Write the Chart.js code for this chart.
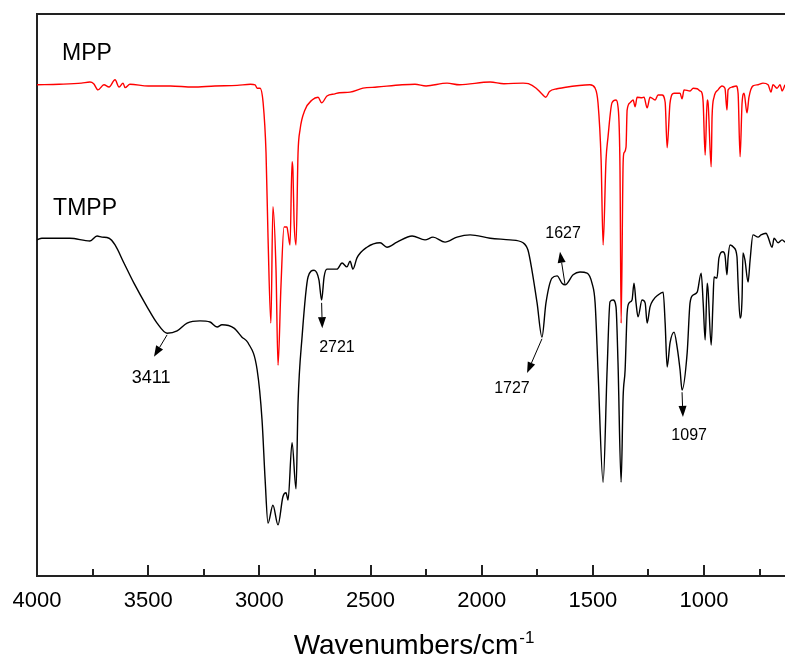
<!DOCTYPE html>
<html>
<head>
<meta charset="utf-8">
<script src="https://cdn.jsdelivr.net/npm/chart.js@4/dist/chart.umd.min.js"></script>
<style>
  html, body { margin: 0; padding: 0; background: #ffffff; overflow: hidden; }
  #wrap { width: 785px; height: 658px; position: relative; }
</style>
</head>
<body>
<div id="wrap"><canvas id="c" width="785" height="658"></canvas></div>
<script>
// ---------- data ----------
const wnMPP = [
  4000,3900,3800,3762,3745,3726,3699,3676,3649,3631,
  3613,3604,3582,3500,3400,3300,3200,3100,3040,3019,
  3010,2997,2983,2970,2961,2948,2939,2925,2916,2903,
  2889,2876,2871,2862,2853,2849,2844,2835,2826,2817,
  2795,2763,2736,2720,2696,2660,2640,2592,2534,2471,
  2358,2300,2250,2156,2100,1962,1900,1814,1790,1755,
  1730,1712,1695,1661,1648,1513,1490,1477,1463,1454,
  1441,1432,1414,1396,1387,1378,1373,1364,1360,1351,
  1346,1333,1319,1310,1301,1279,1270,1256,1243,1220,
  1207,1189,1175,1166,1153,1135,1117,1108,1099,1090,
  1063,1049,1031,1018,1009,1004,995,986,982,968,
  964,955,937,919,906,897,892,874,856,847,
  838,829,820,807,798,780,757,735,712,699,
  690,672,658,649,636
];
const tMPP = [
  87.4,87.5,87.7,87.9,87.6,86.5,87.4,87.0,88.3,87.0,
  87.7,86.9,87.5,87.2,87.2,87.0,87.2,87.3,87.5,87.4,
  86.8,86.8,84.2,75.3,60.3,45.0,65.7,54.4,37.5,51.4,
  62.1,62.1,61.0,58.9,73.7,72.2,63.3,58.9,75.3,79.4,
  82.9,84.7,85.2,84.2,85.4,85.8,86.0,86.1,86.8,87.0,
  87.4,87.5,87.2,87.7,87.4,87.9,87.6,87.7,87.6,86.8,
  85.8,85.2,86.2,86.7,86.8,87.4,86.8,84.2,74.0,58.9,
  74.0,78.1,84.2,84.7,83.5,72.2,45.0,73.5,75.3,76.3,
  82.9,84.2,84.7,83.5,85.2,85.1,85.2,83.3,85.2,84.7,
  85.6,85.6,84.3,76.2,84.2,85.9,85.9,85.9,84.9,86.5,
  86.3,86.8,86.7,86.3,85.9,84.2,74.9,84.7,84.2,72.8,
  81.7,85.2,86.5,87.2,86.8,82.9,86.5,87.0,87.2,85.9,
  74.6,84.2,85.9,82.4,85.2,87.2,87.4,87.7,87.4,86.1,
  87.4,86.8,87.4,86.3,87.4
];
const wnTMPP = [
  4000,3978,3900,3852,3762,3730,3708,3676,3649,3609,
  3564,3505,3460,3415,3370,3325,3267,3222,3190,3168,
  3114,3078,3051,3010,2988,2974,2961,2939,2916,2894,
  2880,2871,2853,2835,2826,2808,2781,2754,2732,2720,
  2709,2696,2651,2628,2606,2592,2579,2561,2516,2457,
  2426,2381,2313,2255,2219,2165,2111,2052,1962,1873,
  1814,1792,1774,1751,1729,1711,1684,1661,1639,1625,
  1589,1558,1526,1504,1490,1477,1454,1436,1423,1409,
  1396,1387,1373,1364,1355,1346,1337,1324,1315,1306,
  1297,1279,1265,1256,1243,1229,1207,1184,1175,1166,
  1153,1135,1121,1108,1099,1076,1063,1049,1031,1013,
  1004,995,986,982,968,960,955,942,933,915,
  906,897,892,883,865,852,847,838,829,825,
  816,802,793,780,757,744,721,712,694,685,
  667,649,636
];
const tTMPP = [
  59.8,60.1,60.1,60.1,59.6,60.5,60.3,60.1,58.9,55.7,
  52.1,47.9,45.0,43.2,43.6,45.0,45.4,45.2,44.3,44.7,
  44.1,42.5,41.5,36.7,27.8,17.1,9.4,12.6,9.1,14.1,
  14.8,13.5,23.7,15.5,30.8,42.5,53.2,54.4,52.7,49.1,
  53.2,54.6,54.6,55.7,55.0,56.0,54.6,56.6,58.5,59.3,
  58.5,59.4,60.5,59.8,60.3,59.4,60.3,60.7,60.1,59.8,
  59.3,58.0,54.4,48.6,42.5,48.6,53.0,53.4,52.1,51.8,
  53.6,54.1,53.9,52.1,48.6,36.7,16.7,36.7,48.8,49.1,
  47.9,37.9,16.7,31.9,36.7,46.8,48.6,49.1,52.1,48.6,
  46.1,49.1,48.6,45.0,47.9,49.1,50.0,50.5,45.0,37.2,
  41.5,43.4,40.7,36.7,33.1,39.7,48.6,50.0,50.5,53.9,
  48.6,42.0,52.1,50.9,41.1,48.6,53.2,53.0,56.6,57.7,
  57.1,53.6,56.6,58.9,58.4,56.8,52.1,45.9,49.6,57.5,
  56.2,52.3,56.2,60.7,60.3,60.7,61.0,60.3,58.5,60.1,
  59.3,59.8,59.4
];
const seriesNames = ['MPP', 'TMPP'];
const majorTicks = [4000, 3500, 3000, 2500, 2000, 1500, 1000];
const minorTicks = [3750, 3250, 2750, 2250, 1750, 1250, 750];
const peakLabels = ['3411', '2721', '1727', '1627', '1097'];

// ---------- annotation placement (data coordinates) ----------
const arrows = [
  { text: peakLabels[0], from: [3415, 42.9], to: [3474, 39.0], label: [3487, 35.2], size: 18 },
  { text: peakLabels[1], from: [2720, 48.6], to: [2717, 44.1], label: [2651, 40.7], size: 16 },
  { text: peakLabels[2], from: [1729, 42.2], to: [1796, 36.1], label: [1864, 33.3], size: 16 },
  { text: peakLabels[3], from: [1625, 51.8], to: [1648, 57.7], label: [1634, 60.9], size: 16 },
  { text: peakLabels[4], from: [1099, 32.7], to: [1095, 28.3], label: [1067, 24.9], size: 16 }
];
const seriesLabelPos = [[3775, 92.9], [3784, 65.3]];

const FONT = "'Liberation Sans', Arial, sans-serif";

const toXY = (xs, ys) => xs.map((x, i) => ({ x: x, y: ys[i] }));

const decor = {
  id: 'decor',
  afterDatasetsDraw(chart) {
    const ctx = chart.ctx;
    const xs = chart.scales.x, ys = chart.scales.y;
    const area = chart.chartArea;
    ctx.save();
    // inward ticks
    ctx.strokeStyle = '#222';
    ctx.lineWidth = 2;
    const tick = (v, len) => {
      const px = Math.round(xs.getPixelForValue(v));
      ctx.beginPath();
      ctx.moveTo(px, area.bottom);
      ctx.lineTo(px, area.bottom - len);
      ctx.stroke();
    };
    majorTicks.forEach(v => tick(v, 11));
    minorTicks.forEach(v => tick(v, 7));

    // arrows
    ctx.strokeStyle = '#000';
    ctx.fillStyle = '#000';
    ctx.lineWidth = 1;
    arrows.forEach(a => {
      const x1 = xs.getPixelForValue(a.from[0]), y1 = ys.getPixelForValue(a.from[1]);
      const x2 = xs.getPixelForValue(a.to[0]), y2 = ys.getPixelForValue(a.to[1]);
      const ang = Math.atan2(y2 - y1, x2 - x1);
      const hl = 11, hw = 4;
      const bx = x2 - hl * Math.cos(ang), by = y2 - hl * Math.sin(ang);
      ctx.beginPath();
      ctx.moveTo(x1, y1);
      ctx.lineTo(bx, by);
      ctx.stroke();
      ctx.beginPath();
      ctx.moveTo(x2, y2);
      ctx.lineTo(bx + hw * Math.sin(ang), by - hw * Math.cos(ang));
      ctx.lineTo(bx - hw * Math.sin(ang), by + hw * Math.cos(ang));
      ctx.closePath();
      ctx.fill();
      ctx.font = a.size + 'px ' + FONT;
      ctx.textAlign = 'center';
      ctx.textBaseline = 'middle';
      ctx.fillText(a.text, xs.getPixelForValue(a.label[0]), ys.getPixelForValue(a.label[1]));
    });

    // series labels
    ctx.font = '23px ' + FONT;
    ctx.textAlign = 'center';
    ctx.textBaseline = 'middle';
    seriesNames.forEach((n, i) => {
      ctx.fillText(n, xs.getPixelForValue(seriesLabelPos[i][0]), ys.getPixelForValue(seriesLabelPos[i][1]));
    });

    // axis title with superscript
    const main = 'Wavenumbers/cm', sup = '-1';
    ctx.font = '28px ' + FONT;
    const w1 = ctx.measureText(main).width;
    ctx.font = '17px ' + FONT;
    const w2 = ctx.measureText(sup).width;
    const cx = (area.left + area.right) / 2 + 3;
    const sx = cx - (w1 + w2 + 1) / 2;
    ctx.textAlign = 'left';
    ctx.textBaseline = 'alphabetic';
    ctx.font = '28px ' + FONT;
    ctx.fillText(main, sx, 654);
    ctx.font = '17px ' + FONT;
    ctx.fillText(sup, sx + w1 + 1, 643);
    ctx.restore();
  }
};

new Chart(document.getElementById('c'), {
  type: 'line',
  data: {
    datasets: [
      { label: seriesNames[0], data: toXY(wnMPP, tMPP), borderColor: '#ff0000', borderWidth: 1.4, pointRadius: 0, cubicInterpolationMode: 'monotone', fill: false },
      { label: seriesNames[1], data: toXY(wnTMPP, tTMPP), borderColor: '#000000', borderWidth: 1.4, pointRadius: 0, cubicInterpolationMode: 'monotone', fill: false }
    ]
  },
  options: {
    responsive: false,
    animation: false,
    layout: { padding: 0 },
    plugins: { legend: { display: false }, tooltip: { enabled: false }, title: { display: false } },
    scales: {
      x: {
        type: 'linear', position: 'bottom', reverse: true, min: 636, max: 4000,
        grid: { display: false },
        border: { display: true, color: '#222', width: 2 },
        afterBuildTicks: (s) => { s.ticks = majorTicks.map(v => ({ value: v })); },
        afterFit: (s) => { s.height = 82; },
        ticks: {
          font: { family: FONT, size: 22 }, color: '#000', padding: 4, maxRotation: 0, autoSkip: false,
          callback: (v) => String(v)
        }
      },
      x2: {
        type: 'linear', position: 'top', reverse: true, min: 636, max: 4000,
        grid: { display: false },
        border: { display: true, color: '#222', width: 2 },
        ticks: { display: false },
        afterFit: (s) => { s.height = 14; }
      },
      y: {
        type: 'linear', position: 'left', min: 0, max: 100,
        grid: { display: false },
        border: { display: true, color: '#222', width: 2 },
        ticks: { display: false },
        afterFit: (s) => { s.width = 37; }
      }
    }
  },
  plugins: [decor]
});
</script>
</body>
</html>
